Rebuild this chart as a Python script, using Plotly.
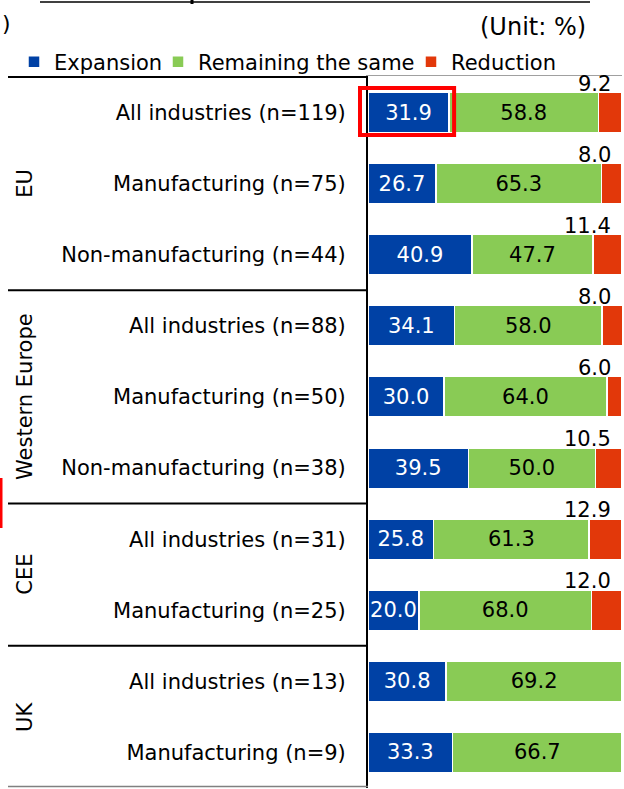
import plotly.graph_objects as go

# Datos (unidad: %)
groups = ["EU", "EU", "EU", "Western Europe", "Western Europe", "Western Europe",
          "CEE", "CEE", "UK", "UK"]
industries = ["All industries (n=119)", "Manufacturing (n=75)", "Non-manufacturing (n=44)",
              "All industries (n=88)", "Manufacturing (n=50)", "Non-manufacturing (n=38)",
              "All industries (n=31)", "Manufacturing (n=25)",
              "All industries (n=13)", "Manufacturing (n=9)"]
expansion = [31.9, 26.7, 40.9, 34.1, 30.0, 39.5, 25.8, 20.0, 30.8, 33.3]
same = [58.8, 65.3, 47.7, 58.0, 64.0, 50.0, 61.3, 68.0, 69.2, 66.7]
reduction = [9.2, 8.0, 11.4, 8.0, 6.0, 10.5, 12.9, 12.0, 0.0, 0.0]
group_order = ["EU", "Western Europe", "CEE", "UK"]

FONT = "DejaVu Sans"
BLUE, GREEN, RED = "#0041A5", "#89CB55", "#E2380A"

# geometría del área de trazado (px)
L, R, T, B = 368, 2, 76, 1
W, H = 624, 789
PW, PH = W - L - R, H - T - B


def px_x(px):
    return (px - L) / PW


def px_y(py):
    return (H - B - py) / PH


cats = [g + " | " + i for g, i in zip(groups, industries)]
n = len(cats)

fig = go.Figure()
fig.add_trace(go.Bar(y=cats, x=expansion, name="Expansion", orientation="h", legend="legend",
                     marker=dict(color=BLUE, line=dict(color="white", width=1.5)),
                     text=[f"{v:.1f}" for v in expansion], textposition="inside",
                     insidetextanchor="middle", constraintext="none",
                     textfont=dict(color="white", size=21, family=FONT)))
fig.add_trace(go.Bar(y=cats, x=same, name="Remaining the same", orientation="h", legend="legend2",
                     marker=dict(color=GREEN, line=dict(color="white", width=1.5)),
                     text=[f"{v:.1f}" for v in same], textposition="inside",
                     insidetextanchor="middle", constraintext="none",
                     textfont=dict(color="black", size=21, family=FONT)))
fig.add_trace(go.Bar(y=cats, x=reduction, name="Reduction", orientation="h", legend="legend3",
                     marker=dict(color=RED, line=dict(color="white", width=1.5)),
                     hoverinfo="x"))

# valores de "Reduction" encima de la barra, a la derecha
annotations = []
for c, r in zip(cats, reduction):
    if r > 0:
        annotations.append(dict(x=100, y=c, xref="x", yref="y", text=f"{r:.1f}",
                                showarrow=False, xanchor="right", yanchor="middle",
                                xshift=-9, yshift=29,
                                font=dict(size=21, color="black", family=FONT)))

# etiquetas de grupo (verticales)
for g in group_order:
    idx = [k for k, gg in enumerate(groups) if gg == g]
    annotations.append(dict(x=px_x(25), y=sum(idx) / len(idx), xref="paper", yref="y",
                            text=g, textangle=-90, showarrow=False,
                            xanchor="center", yanchor="middle",
                            font=dict(size=21, color="black", family=FONT)))

annotations.append(dict(x=px_x(588), y=px_y(27), xref="paper", yref="paper",
                        text="(Unit: %)", showarrow=False, xanchor="right", yanchor="middle",
                        font=dict(size=24, color="black", family=FONT)))
annotations.append(dict(x=px_x(0), y=px_y(23), xref="paper", yref="paper",
                        text=")", showarrow=False, xanchor="left", yanchor="middle",
                        font=dict(size=22, color="black", family=FONT)))

# líneas separadoras de grupos
shapes = []
bounds = [-0.5]
for g in group_order:
    idx = [k for k, gg in enumerate(groups) if gg == g]
    bounds.append(max(idx) + 0.5)
for k, b in enumerate(bounds):
    last = k == len(bounds) - 1
    yb = b - 0.02 if last else b
    shapes.append(dict(type="line", xref="paper", yref="y", x0=px_x(8), x1=0, y0=yb, y1=yb,
                       line=dict(color="#808080" if last else "black",
                                 width=1.5 if last else 2)))

# línea superior (título recortado)
shapes.append(dict(type="line", xref="paper", yref="paper", x0=px_x(40), x1=px_x(590),
                   y0=px_y(2), y1=px_y(2), line=dict(color="black", width=1.5)))
shapes.append(dict(type="line", xref="paper", yref="paper", x0=px_x(192), x1=px_x(192),
                   y0=px_y(0), y1=px_y(4), line=dict(color="black", width=3)))

# recuadros rojos de resaltado
row0 = 1 - 0.5 / n
shapes.append(dict(type="rect", xref="paper", yref="paper", x0=px_x(360),
                   x1=expansion[0] / 100 + 0.02, y0=row0 - 0.033, y1=row0 + 0.033,
                   line=dict(color="#FF0000", width=4)))
shapes.append(dict(type="line", xref="paper", yref="paper", x0=px_x(1), x1=px_x(1),
                   y0=px_y(478), y1=px_y(528), line=dict(color="#FF0000", width=3)))

leg = dict(orientation="h", y=px_y(62), xanchor="left", yanchor="middle",
           font=dict(size=21, family=FONT), bgcolor="rgba(0,0,0,0)")

fig.update_layout(
    barmode="stack", bargap=0.43,
    width=W, height=H,
    margin=dict(l=L, r=R, t=T, b=B),
    plot_bgcolor="white", paper_bgcolor="white",
    font=dict(family=FONT, size=21, color="black"),
    uniformtext=dict(minsize=21, mode="show"),
    showlegend=True,
    legend=dict(leg, x=px_x(14)),
    legend2=dict(leg, x=px_x(158)),
    legend3=dict(leg, x=px_x(411)),
    xaxis=dict(range=[0, 100], showgrid=False, zeroline=False, showticklabels=False,
               showline=True, side="top", linecolor="#A0A0A0", linewidth=1, fixedrange=True),
    yaxis=dict(categoryorder="array", categoryarray=cats, autorange="reversed",
               tickvals=cats, ticktext=industries, ticks="", ticklabelstandoff=16,
               showline=True, linecolor="black", linewidth=2, showgrid=False,
               tickfont=dict(size=21, family=FONT), fixedrange=True),
    annotations=annotations, shapes=shapes,
)

fig.write_html("out.html", config={"displayModeBar": False},
               post_script="document.body.style.margin='0';")
